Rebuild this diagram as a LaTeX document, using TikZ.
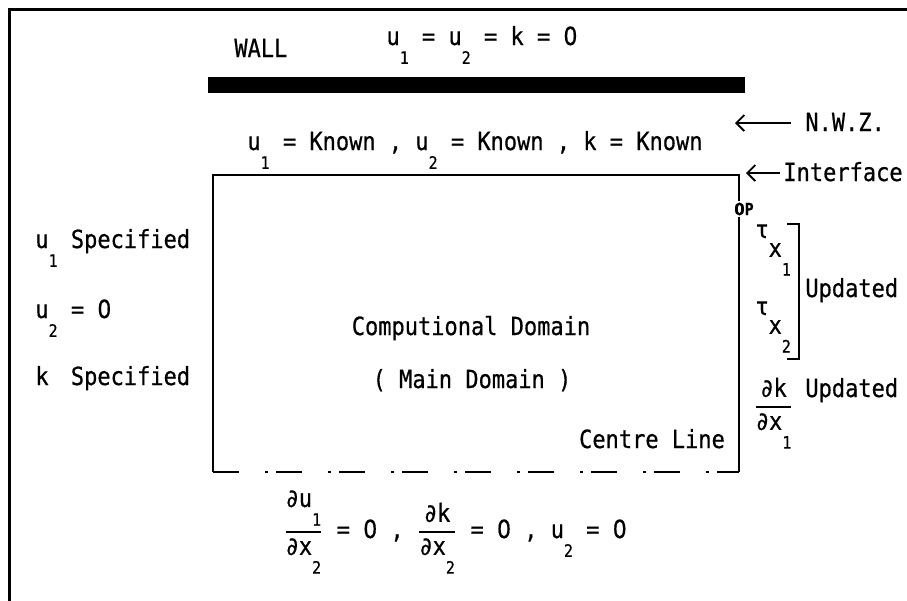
\documentclass[tikz,border=0pt]{standalone}
\usepackage{amsmath}
\usepackage{fontspec}
\setmainfont{DejaVu Sans Mono}[FakeStretch=0.88,FakeBold=0.6]
\newfontfamily\zerofont{DejaVu Sans}[FakeStretch=0.88,FakeBold=0.6]
\usepackage{tikz}
\usetikzlibrary{arrows.meta,positioning}
\newcommand{\lo}[1]{\raisebox{-0.75em}{\fontsize{8.5}{9}\selectfont #1}}
\newcommand{\dn}[1]{\raisebox{-0.75em}{#1}}
\newcommand{\zr}{{\zerofont 0}}
\newcommand{\pfrac}[2]{$\genfrac{}{}{0.9pt}{0}{\mbox{#1}}{\mbox{#2}}$}
\tikzset{
  txt/.style={inner sep=0pt,font=\fontsize{12.5}{15}\selectfont},
  edge/.style={line width=1pt,color=black},
  cline/.style={line width=1pt,dash pattern=on 13pt off 13pt on 1.5pt off 4pt},
  ptr/.style={line width=0.9pt,{Straight Barb[length=4pt,width=8pt]}-},
  oplbl/.style={inner sep=0.5pt,font=\fontsize{8.5}{9}\selectfont\bfseries},
}

\begin{document}
\begin{tikzpicture}[x=0.5pt,y=-0.5pt]
\useasboundingbox (0,0) rectangle (907,601);

% ── Page frame ───────────────────────────────────────────────────────────
\draw[line width=1.5pt] (9,601) -- (9,9) -- (907,9);

% ── Wall ─────────────────────────────────────────────────────────────────
\fill (208,77) rectangle (745,93);
\node[txt, anchor=base west] (walllbl) at (234,57) {WALL};
\node[txt, anchor=base] (wallbc) at (482,45) {u\lo{1} = u\lo{2} = k = \zr};

% ── N.W.Z. and interface ─────────────────────────────────────────────────
\node[txt, anchor=base] (known) at (475,150)
  {u\lo{1} = Known , u\lo{2} = Known , k = Known};
\node[txt, anchor=base west] (nwz) at (805,131) {N.W.Z.};
\coordinate (nwztip) at (735,123);
\draw[ptr, shorten >=7pt] (nwztip) -- (nwztip -| nwz.west);
\node[txt, anchor=base west] (iface) at (783,181) {Interface};
\coordinate (ifacetip) at (746,173);
\draw[ptr, shorten >=1.5pt] (ifacetip) -- (ifacetip -| iface.west);

% ── Main domain box ──────────────────────────────────────────────────────
\coordinate (tl) at (213,175);
\coordinate (tr) at (739,175);
\coordinate (bl) at (213,472);
\coordinate (br) at (739,472);
\node[oplbl] (op) at (744,209) {\zr P};
\draw[edge] (op.north -| tr) -- (tr) -- (tl) -- (bl);
\draw[edge] (op.south -| tr) -- (br);
\draw[cline] (bl) -- (br);

\node[txt, anchor=base] (comp) at (471,335) {Computional Domain};
\node[txt, anchor=base] (maindom) at (472,388) {( Main Domain )};
\node[txt, anchor=base] (centre) at (652,448) {Centre Line};

% ── Inflow boundary (left) ───────────────────────────────────────────────
\node[txt, anchor=base west] (inu1) at (35,248) {u\lo{1} Specified};
\node[txt, anchor=base west] (inu2) at (35,318) {u\lo{2} = \zr};
\node[txt, anchor=base west] (ink) at (35,385) {k\phantom{\lo{1}} Specified};

% ── Outflow boundary (right) ─────────────────────────────────────────────
\node[txt, anchor=base west] (tau1) at (755,238) {τ\dn{x\lo{1}}};
\node[txt, anchor=base west] (tau2) at (755,315) {τ\dn{x\lo{2}}};
\draw[edge] (787,224) -- (799,224) -- (799,359) -- (787,359);
\node[txt, anchor=base west] (upd1) at (805,297) {Updated};
\node[txt, anchor=base west] (dkdx) at (753,413) {\pfrac{∂k}{∂x\lo{1}}};
\node[txt, anchor=base west] (upd2) at (805,397) {Updated};

% ── Centre line condition ────────────────────────────────────────────────
\node[txt, anchor=base] (sym) at (455,538)
  {\pfrac{∂u\lo{1}}{∂x\lo{2}} = \zr{} , \pfrac{∂k}{∂x\lo{2}} = \zr{} , u\lo{2} = \zr};

\end{tikzpicture}
\end{document}
